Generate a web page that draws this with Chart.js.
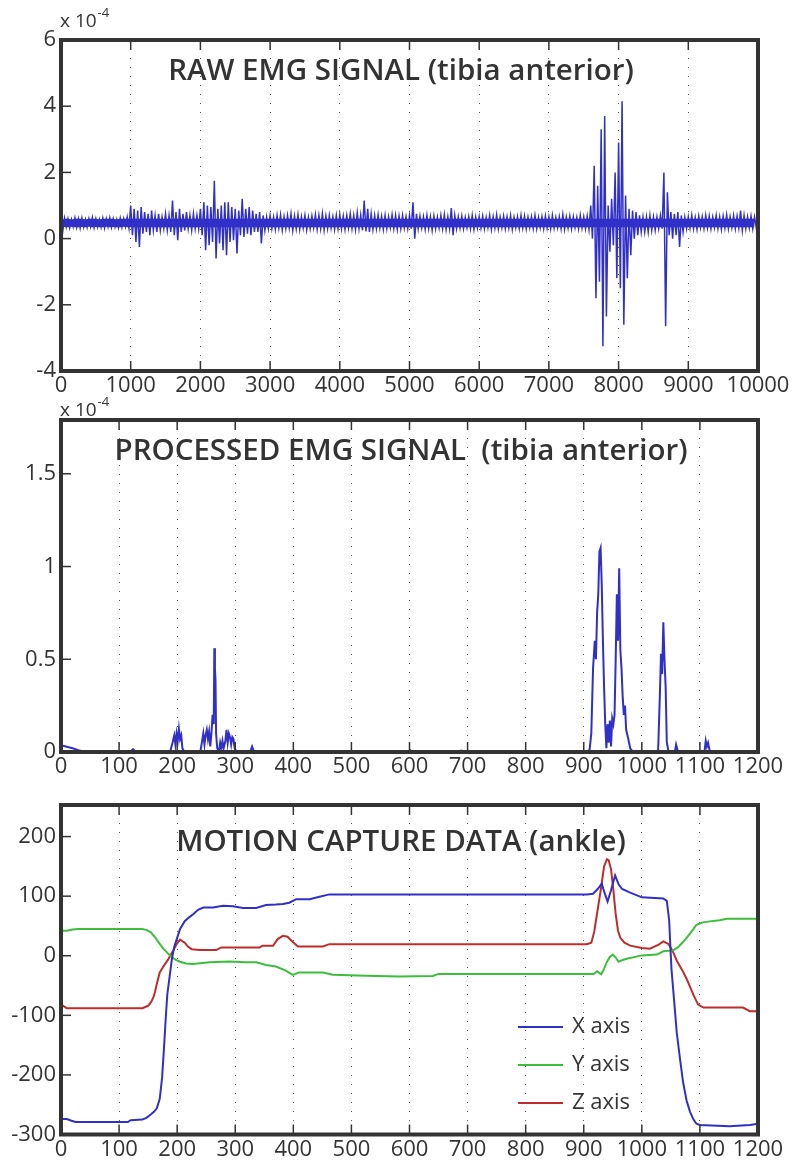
<!DOCTYPE html>
<html>
<head>
<meta charset="utf-8">
<script src="https://cdn.jsdelivr.net/npm/chart.js@4.4.1/dist/chart.umd.min.js"></script>
<style>
  html, body { margin: 0; padding: 0; background: #fff; }
  body { width: 794px; height: 1165px; position: relative; overflow: hidden; }
  canvas { position: absolute; left: 0; }
</style>
</head>
<body>
<canvas id="rawCanvas" width="794" height="400" style="top:0px"></canvas>
<canvas id="procCanvas" width="794" height="400" style="top:380px"></canvas>
<canvas id="mocapCanvas" width="794" height="385" style="top:780px"></canvas>
<script>
// ---- raw EMG (x 10^-4), envelope read per 50-sample bin: upper / lower excursions
const rawBinSize = 50;
const rawHi = [
  0.55,0.62,0.6,0.58,0.63,0.6,0.62,0.58,0.6,0.64,0.6,0.58,0.62,0.6,0.63,0.6,0.58,0.62,0.6,0.65,
  1.0,0.9,0.85,0.95,0.8,0.75,0.85,0.7,0.75,0.65,0.75,0.7,1.15,0.8,0.9,0.75,0.8,0.7,0.75,0.7,
  0.9,1.1,1.0,0.95,1.75,0.9,1.0,1.1,1.1,0.95,0.9,0.85,1.2,0.9,0.95,0.85,0.75,0.8,0.7,0.65,
  0.7,0.65,0.7,0.72,0.66,0.7,0.75,0.68,0.72,0.66,0.7,0.64,0.68,0.72,0.7,0.75,0.68,0.7,0.66,0.7,
  0.72,0.68,0.7,0.75,0.7,0.78,0.72,1.15,0.9,0.75,0.7,0.72,0.68,0.7,0.66,0.72,0.7,0.68,0.7,0.66,
  0.7,1.1,0.75,0.68,0.66,0.7,0.66,0.68,0.65,0.7,0.72,0.66,0.92,0.7,0.66,0.68,0.64,0.66,0.7,0.65,
  0.66,0.68,0.64,0.7,0.66,0.72,0.65,0.68,0.66,0.7,0.64,0.66,0.7,0.68,0.65,0.66,0.7,0.64,0.66,0.68,
  0.66,0.7,0.64,0.66,0.72,0.65,0.68,0.66,0.64,0.7,0.66,0.68,1.0,2.2,1.6,3.3,3.7,1.0,1.2,2.0,
  2.9,4.15,1.3,0.9,0.85,0.8,0.7,0.65,0.65,0.7,0.65,0.65,0.7,2.0,1.4,0.8,0.75,0.8,0.7,0.65,
  0.66,0.7,0.64,0.68,0.66,0.7,0.68,0.65,0.7,0.66,0.68,0.72,0.66,0.7,0.68,0.85,0.7,0.66,0.68,0.65
];
const rawLo = [
  0.22,0.35,0.33,0.36,0.34,0.32,0.35,0.34,0.36,0.33,0.35,0.34,0.32,0.36,0.34,0.35,0.33,0.34,0.36,0.32,
  0.1,-0.1,-0.25,0.15,0.2,0.1,0.25,0.2,0.25,0.3,0.25,0.2,0.1,-0.05,0.2,0.25,0.3,0.25,0.3,0.3,
  0.1,-0.35,-0.2,-0.1,-0.6,-0.15,-0.35,-0.5,-0.1,-0.05,-0.45,0.1,0.05,0.15,0.1,0.2,0.2,-0.15,0.25,0.3,
  0.3,0.28,0.32,0.26,0.3,0.32,0.25,0.3,0.28,0.32,0.27,0.3,0.33,0.28,0.3,0.26,0.3,0.32,0.28,0.3,
  0.3,0.28,0.32,0.3,0.27,0.3,0.25,0.22,0.2,0.28,0.3,0.32,0.28,0.3,0.33,0.3,0.28,0.3,0.32,0.3,
  0.3,0.0,0.3,0.32,0.28,0.3,0.25,0.3,0.32,0.3,0.28,0.3,0.1,0.3,0.32,0.3,0.33,0.3,0.28,0.32,
  0.32,0.3,0.33,0.28,0.32,0.3,0.33,0.3,0.32,0.28,0.33,0.3,0.32,0.3,0.33,0.31,0.3,0.33,0.3,0.32,
  0.3,0.32,0.33,0.3,0.28,0.32,0.3,0.33,0.3,0.32,0.3,0.28,0.0,-1.8,-1.3,-3.25,-2.35,-0.4,-0.2,-1.2,
  -1.5,-2.6,-1.2,-0.5,0.0,0.1,0.2,0.2,0.2,0.25,0.25,0.3,0.3,-2.65,0.1,0.0,0.1,-0.25,0.2,0.3,
  0.32,0.3,0.28,0.33,0.3,0.32,0.3,0.33,0.3,0.28,0.32,0.3,0.33,0.3,0.32,0.25,0.3,0.32,0.3,0.33
];
// the dense noise core that reads as a solid band
const rawCoreTop = 0.6;
const rawCoreBottom = 0.34;
const rawXTicks = [0,1000,2000,3000,4000,5000,6000,7000,8000,9000,10000];
const rawYTicks = [-4,-2,0,2,4,6];

// ---- processed EMG (x 10^-4)
const procT = [0,5,10,20,30,38,120,124,128,188,192,195,197,199,201,203,205,207,209,212,
  240,243,245,247,249,251,253,255,257,259,261,263,264,265,266,267,269,272,274,276,278,280,283,285,287,289,291,293,295,297,299,302,
  326,329,332,598,601,604,686,689,692,905,910,913,916,919,921,923,925,927,929,931,933,935,937,939,941,943,945,947,949,951,953,955,957,959,961,963,965,967,969,971,973,976,980,984,
  1028,1031,1033,1035,1037,1039,1041,1043,1046,1057,1059,1062,1108,1110,1112,1114,1117,1200];
const procV = [0.035,0.032,0.028,0.02,0.01,0.003,0.003,0.015,0.003,0.003,0.05,0.09,0.04,0.1,0.06,0.125,0.07,0.09,0.02,0.003,
  0.003,0.06,0.1,0.04,0.09,0.12,0.07,0.11,0.03,0.1,0.2,0.15,0.56,0.45,0.39,0.1,0.02,0.003,0.05,0.02,0.06,0.02,0.06,0.12,0.05,0.1,0.08,0.04,0.08,0.07,0.02,0.003,
  0.003,0.03,0.003,0.003,0.01,0.003,0.003,0.008,0.003,0.003,0.01,0.1,0.45,0.6,0.5,0.75,0.85,1.08,1.1,0.9,0.6,0.35,0.15,0.02,0.15,0.05,0.17,0.03,0.18,0.15,0.2,0.5,0.85,0.6,0.99,0.55,0.45,0.3,0.2,0.25,0.12,0.08,0.02,0.003,
  0.003,0.3,0.53,0.42,0.7,0.5,0.35,0.05,0.003,0.003,0.04,0.003,0.003,0.06,0.03,0.05,0.003,0.003];
const procXTicks = [0,100,200,300,400,500,600,700,800,900,1000,1100,1200];
const procYTicks = [0,0.5,1,1.5];

// ---- motion capture (ankle)
const xAxisT = [0,10,18,25,115,120,140,147,155,160,165,170,174,177,180,183,187,191,195,200,205,213,220,228,236,245,262,279,296,313,336,353,370,382,393,405,428,445,462,
  905,916,924,931,936,941,947,954,960,966,980,1000,1037,1043,1047,1051,1056,1060,1066,1071,1077,1083,1089,1094,1100,1120,1151,1186,1200];
const xAxisV = [-274,-274,-277,-279,-279,-276,-275,-272,-266,-262,-256,-240,-205,-160,-110,-65,-35,-5,15,30,45,58,64,70,77,81,81,84,83,80,80,85,86,87,89,95,95,99,103,
  103,104,112,121,105,91,110,135,120,112,106,98,96,92,60,-22,-80,-128,-175,-212,-243,-262,-275,-282,-284,-285,-286,-284,-282];
const yAxisT = [0,10,20,30,140,148,155,162,170,176,182,188,193,200,205,215,227,256,290,319,336,353,370,387,399,410,451,468,525,582,640,650,
  917,923,930,935,940,945,950,955,960,967,974,1000,1026,1037,1054,1062,1071,1077,1083,1089,1094,1105,1117,1134,1146,1186,1200];
const yAxisV = [42,42,44,45,45,43,39,31,20,12,6,0,-4,-8,-10,-13,-14,-11,-9.5,-11,-11,-15.6,-18,-25,-32,-28,-28,-32,-33.5,-35,-33.8,-30.5,
  -30.5,-26,-31,-22,-10,-2,2,-3,-10,-7,-5,0.6,2,7.4,9,14,23,30,37,45,52,56,57.7,59.5,62,62,62];
const zAxisT = [0,10,140,150,155,159,162,165,170,175,179,184,188,194,199,205,213,219,225,239,267,276,296,342,347,365,373,382,390,399,408,451,462,
  905,913,918,922,926,930,935,940,943,947,951,955,959,963,970,980,1000,1014,1029,1037,1046,1053,1060,1070,1077,1089,1097,1106,1174,1186,1200];
const zAxisV = [-82,-88,-88,-84,-78,-70,-60,-47,-28,-20,-14,-7,0,10,19.5,27,22,15,11,9.5,9.5,14,14,14,16.8,16.8,28,33.5,32,23,15.6,15.6,19.5,
  19.5,22,40,65,90,115,150,162,160,145,110,70,42,30,22,17,13,11.8,18.6,24,19.5,8,-8,-25,-38.5,-66,-82,-87,-87,-93,-93];
const mocapXTicks = [0,100,200,300,400,500,600,700,800,900,1000,1100,1200];
const mocapYTicks = [-300,-200,-100,0,100,200];
const mocapLabels = ["X axis", "Y axis", "Z axis"];

const BLUE = "rgb(48,48,200)";
const GREEN = "rgb(60,190,60)";
const RED = "rgb(190,45,45)";
const INK = "#333333";
const FONT = '"Open Sans", "DejaVu Sans", sans-serif';

function pairs(t, v) {
  return t.map((x, i) => ({ x: x, y: v[i] }));
}

// zig-zag through the envelope: top of each bin, then bottom half a bin later
function rawPoints() {
  const pts = [];
  rawHi.forEach((hi, i) => {
    pts.push({ x: i * rawBinSize, y: hi });
    pts.push({ x: i * rawBinSize + rawBinSize / 2, y: rawLo[i] });
  });
  pts.push({ x: 10000, y: 0.45 });
  return pts;
}

const rawBinX = rawHi.map((v, i) => i * rawBinSize);
const coreTop = rawHi.map((v) => Math.min(v, rawCoreTop));
const coreBottom = rawLo.map((v) => Math.max(v, rawCoreBottom));

// frame, inward ticks, title, exponent and legend, drawn on top
const matlabFrame = {
  id: "matlabFrame",
  afterDraw(chart, args, opts) {
    const ctx = chart.ctx;
    const a = chart.chartArea;
    const xs = chart.scales.x;
    const ys = chart.scales.y;
    ctx.save();
    ctx.strokeStyle = INK;
    ctx.lineWidth = 1.5;
    xs.ticks.forEach((t) => {
      const px = xs.getPixelForValue(t.value);
      ctx.beginPath();
      ctx.moveTo(px, a.bottom);
      ctx.lineTo(px, a.bottom - 10);
      ctx.moveTo(px, a.top);
      ctx.lineTo(px, a.top + 10);
      ctx.stroke();
    });
    ys.ticks.forEach((t) => {
      const py = ys.getPixelForValue(t.value);
      ctx.beginPath();
      ctx.moveTo(a.left, py);
      ctx.lineTo(a.left + 10, py);
      ctx.stroke();
    });
    ctx.lineWidth = 4;
    ctx.strokeRect(a.left, a.top, a.right - a.left, a.bottom - a.top);

    ctx.fillStyle = INK;
    ctx.font = "600 29.5px " + FONT;
    ctx.textAlign = "center";
    ctx.textBaseline = "alphabetic";
    ctx.fillText(opts.title, 401, opts.titleY);

    if (opts.expY) {
      ctx.textAlign = "left";
      ctx.font = "19px " + FONT;
      ctx.fillText("x 10", 60, opts.expY);
      const w = ctx.measureText("x 10").width;
      ctx.font = "13px " + FONT;
      ctx.fillText("-4", 60 + w + 1, opts.expY - 10);
    }

    if (opts.legend) {
      ctx.font = "22px " + FONT;
      ctx.textAlign = "left";
      ctx.textBaseline = "middle";
      chart.data.datasets.forEach((ds, i) => {
        const y = opts.legend.y[i];
        ctx.strokeStyle = ds.borderColor;
        ctx.lineWidth = 2;
        ctx.beginPath();
        ctx.moveTo(518, y);
        ctx.lineTo(563, y);
        ctx.stroke();
        ctx.fillStyle = INK;
        ctx.fillText(ds.label, 572, y);
      });
    }
    ctx.restore();
  },
};

function makeChart(canvasId, datasets, cfg) {
  const canvas = document.getElementById(canvasId);
  return new Chart(canvas.getContext("2d"), {
    type: "line",
    data: { datasets: datasets },
    options: {
      responsive: false,
      animation: false,
      devicePixelRatio: 1,
      layout: { padding: { left: 0, right: 36, top: cfg.top, bottom: 0 } },
      plugins: {
        legend: { display: false },
        tooltip: { enabled: false },
        matlabFrame: cfg.frame,
      },
      elements: { point: { radius: 0 }, line: { tension: 0 } },
      scales: {
        x: {
          type: "linear",
          min: cfg.xMin,
          max: cfg.xMax,
          afterBuildTicks: (s) => { s.ticks = cfg.xTicks.map((v) => ({ value: v })); },
          afterFit: (s) => { s.height = canvas.height - cfg.bottom; },
          grid: { display: true, drawTicks: false, color: "#555", lineWidth: 1 },
          border: { display: false, dash: [1, 8] },
          ticks: {
            autoSkip: false,
            maxRotation: 0,
            padding: 2,
            color: INK,
            font: { family: FONT, size: 22 },
            callback: (v) => String(v),
          },
        },
        y: {
          min: cfg.yMin,
          max: cfg.yMax,
          afterBuildTicks: (s) => { s.ticks = cfg.yTicks.map((v) => ({ value: v })); },
          afterFit: (s) => { s.width = 61; },
          grid: { display: false, drawTicks: false },
          border: { display: false },
          ticks: {
            padding: 5,
            color: INK,
            font: { family: FONT, size: 22 },
            callback: (v) => String(v),
          },
        },
      },
    },
    plugins: [matlabFrame],
  });
}

makeChart("rawCanvas", [
  { label: "core top", data: pairs(rawBinX, coreTop), borderWidth: 0, borderColor: "rgba(0,0,0,0)", fill: false },
  { label: "core bottom", data: pairs(rawBinX, coreBottom), borderWidth: 0, borderColor: "rgba(0,0,0,0)", backgroundColor: BLUE, fill: "-1" },
  { label: "raw", data: rawPoints(), borderColor: BLUE, borderWidth: 1.5 },
], {
  top: 40, bottom: 371, xMin: 0, xMax: 10000, yMin: -4, yMax: 6,
  xTicks: rawXTicks, yTicks: rawYTicks,
  frame: { title: "RAW EMG SIGNAL (tibia anterior)", titleY: 80, expY: 27 },
});

makeChart("procCanvas", [
  { label: "processed", data: pairs(procT, procV), borderColor: BLUE, borderWidth: 2 },
], {
  top: 40, bottom: 372, xMin: 0, xMax: 1200, yMin: 0, yMax: 1.79,
  xTicks: procXTicks, yTicks: procYTicks,
  frame: { title: "PROCESSED EMG SIGNAL  (tibia anterior)", titleY: 80, expY: 36 },
});

makeChart("mocapCanvas", [
  { label: mocapLabels[0], data: pairs(xAxisT, xAxisV), borderColor: BLUE, borderWidth: 2 },
  { label: mocapLabels[1], data: pairs(yAxisT, yAxisV), borderColor: GREEN, borderWidth: 2 },
  { label: mocapLabels[2], data: pairs(zAxisT, zAxisV), borderColor: RED, borderWidth: 2 },
], {
  top: 25, bottom: 354.5, xMin: 0, xMax: 1200, yMin: -300, yMax: 253,
  xTicks: mocapXTicks, yTicks: mocapYTicks,
  frame: { title: "MOTION CAPTURE DATA (ankle)", titleY: 71, legend: { y: [247, 285, 323] } },
});
</script>
</body>
</html>
